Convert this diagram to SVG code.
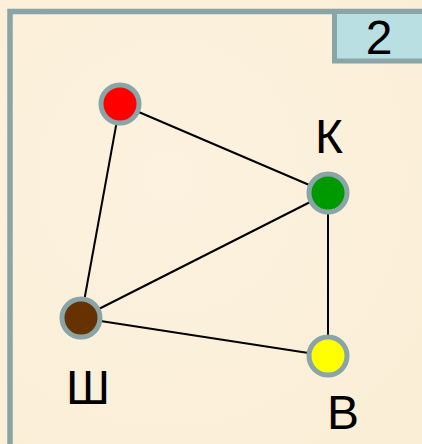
<svg xmlns="http://www.w3.org/2000/svg" width="422" height="444" viewBox="0 0 422 444">
<defs>
<style>
.frame{fill:none;stroke:#89A5A7;stroke-width:5.5}
.box{fill:#B9DFE3;stroke:#89A5A7;stroke-width:5}
.node{stroke:#89A5A7;stroke-width:5}
.edge{stroke:#000;stroke-width:2;fill:none}
.lbl{font-family:"Liberation Sans",Arial,sans-serif;font-size:48px;fill:#000;text-anchor:middle}
</style>
<radialGradient id="g" cx="0.4" cy="0.4" r="0.8">
<stop offset="0" stop-color="#FCF2DF"/>
<stop offset="1" stop-color="#FAEED6"/>
</radialGradient>
</defs>
<rect x="0" y="0" width="422" height="444" fill="url(#g)"/>
<rect class="frame" x="10" y="11.5" width="430" height="460"/>
<g id="badge">
<rect class="box" x="334.5" y="11.5" width="100" height="49.5"/>
<text class="lbl" x="379" y="54">2</text>
</g>
<g id="connectors">
<line class="edge" x1="120" y1="104" x2="328" y2="193"/>
<line class="edge" x1="120" y1="104" x2="81" y2="318"/>
<line class="edge" x1="81" y1="318" x2="328" y2="193"/>
<line class="edge" x1="81" y1="318" x2="328" y2="356"/>
<line class="edge" x1="328" y1="193" x2="328" y2="356"/>
</g>
<g id="node-red"><circle class="node" cx="120" cy="104" r="19" fill="#FF0000"/></g>
<g id="node-K"><circle class="node" cx="328" cy="193" r="19" fill="#009900"/><text class="lbl" x="329" y="153">К</text></g>
<g id="node-Sh"><circle class="node" cx="81" cy="318" r="19" fill="#663300"/><text class="lbl" x="88" y="404">Ш</text></g>
<g id="node-V"><circle class="node" cx="328" cy="356" r="19" fill="#FFFF00"/><text class="lbl" x="343" y="429">В</text></g>
</svg>
